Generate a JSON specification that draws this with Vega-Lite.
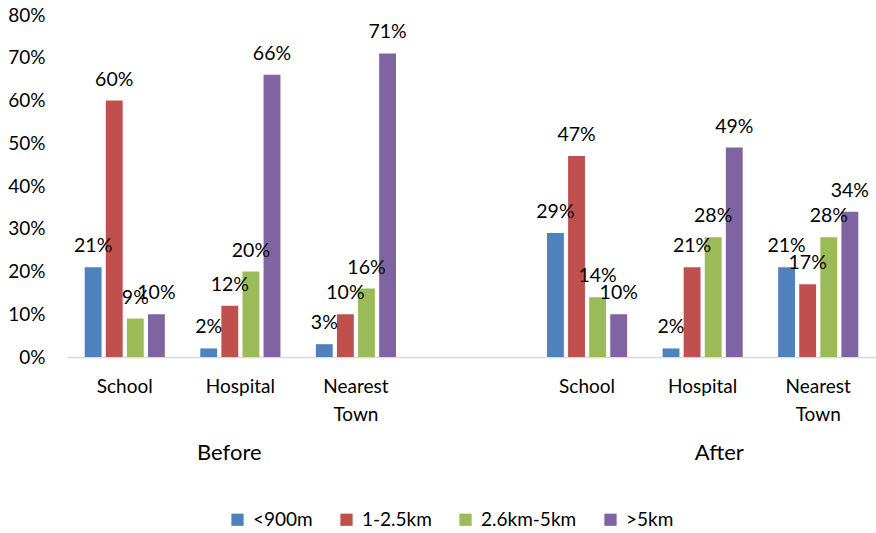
{
  "$schema": "https://vega.github.io/schema/vega-lite/v6.json",
  "width": 809,
  "height": 342,
  "autosize": {"type": "none"},
  "padding": {"left": 67, "top": 15, "right": 0, "bottom": 176},
  "background": "white",
  "config": {
    "font": "Lato",
    "view": {"stroke": null},
    "axis": {"grid": false}
  },
  "data": {
    "values": [
      {"period": "Before", "place": "School", "band": "<900m", "value": 0.21},
      {"period": "Before", "place": "School", "band": "1-2.5km", "value": 0.60},
      {"period": "Before", "place": "School", "band": "2.6km-5km", "value": 0.09},
      {"period": "Before", "place": "School", "band": ">5km", "value": 0.10},
      {"period": "Before", "place": "Hospital", "band": "<900m", "value": 0.02},
      {"period": "Before", "place": "Hospital", "band": "1-2.5km", "value": 0.12},
      {"period": "Before", "place": "Hospital", "band": "2.6km-5km", "value": 0.20},
      {"period": "Before", "place": "Hospital", "band": ">5km", "value": 0.66},
      {"period": "Before", "place": "Nearest Town", "band": "<900m", "value": 0.03},
      {"period": "Before", "place": "Nearest Town", "band": "1-2.5km", "value": 0.10},
      {"period": "Before", "place": "Nearest Town", "band": "2.6km-5km", "value": 0.16},
      {"period": "Before", "place": "Nearest Town", "band": ">5km", "value": 0.71},
      {"period": "After", "place": "School", "band": "<900m", "value": 0.29},
      {"period": "After", "place": "School", "band": "1-2.5km", "value": 0.47},
      {"period": "After", "place": "School", "band": "2.6km-5km", "value": 0.14},
      {"period": "After", "place": "School", "band": ">5km", "value": 0.10},
      {"period": "After", "place": "Hospital", "band": "<900m", "value": 0.02},
      {"period": "After", "place": "Hospital", "band": "1-2.5km", "value": 0.21},
      {"period": "After", "place": "Hospital", "band": "2.6km-5km", "value": 0.28},
      {"period": "After", "place": "Hospital", "band": ">5km", "value": 0.49},
      {"period": "After", "place": "Nearest Town", "band": "<900m", "value": 0.21},
      {"period": "After", "place": "Nearest Town", "band": "1-2.5km", "value": 0.17},
      {"period": "After", "place": "Nearest Town", "band": "2.6km-5km", "value": 0.28},
      {"period": "After", "place": "Nearest Town", "band": ">5km", "value": 0.34}
    ]
  },
  "transform": [
    {"calculate": "datum.period + '|' + datum.place", "as": "slot"}
  ],
  "layer": [
    {
      "layer": [
        {
          "mark": {"type": "bar"},
          "encoding": {
            "x": {
              "field": "slot",
              "type": "nominal",
              "scale": {
                "domain": ["Before|School", "Before|Hospital", "Before|Nearest Town", "gap", "After|School", "After|Hospital", "After|Nearest Town"],
                "paddingInner": 0.27,
                "paddingOuter": 0.135
              },
              "axis": {
                "title": null,
                "labelAngle": 0,
                "ticks": false,
                "domainColor": "#d9d9d9",
                "domainWidth": 1.5,
                "labelFont": "Lato",
                "labelFontSize": 19,
                "labelColor": "#000000",
                "labelPadding": 20,
                "labelLineHeight": 28,
                "labelBaseline": "top",
                "labelExpr": "split(split(datum.value, '|')[1] || '', ' ')"
              }
            },
            "xOffset": {
              "field": "band",
              "type": "nominal",
              "sort": ["<900m", "1-2.5km", "2.6km-5km", ">5km"],
              "scale": {"paddingInner": 0.2, "paddingOuter": 0.1}
            },
            "y": {
              "field": "value",
              "type": "quantitative",
              "scale": {"domain": [0, 0.8], "nice": false},
              "axis": {
                "title": null,
                "format": ".0%",
                "values": [0, 0.1, 0.2, 0.3, 0.4, 0.5, 0.6, 0.7, 0.8],
                "domain": false,
                "ticks": false,
                "labelFontSize": 19,
                "labelPadding": 22,
                "labelColor": "#000000"
              }
            },
            "color": {
              "field": "band",
              "type": "nominal",
              "scale": {
                "domain": ["<900m", "1-2.5km", "2.6km-5km", ">5km"],
                "range": ["#4F81BD", "#C0504D", "#9BBB59", "#8064A2"]
              },
              "legend": {
                "title": null,
                "orient": "none",
                "legendX": 161,
                "legendY": 495,
                "direction": "horizontal",
                "symbolType": "square",
                "symbolSize": 150,
                "symbolStrokeWidth": 0,
                "labelFontSize": 19,
                "labelColor": "#000000",
                "labelOffset": 6,
                "columnPadding": 24
              }
            }
          }
        },
        {
          "mark": {"type": "text", "baseline": "bottom", "dy": -11, "fontSize": 19.5, "color": "#000000"},
          "encoding": {
            "x": {"field": "slot", "type": "nominal"},
            "xOffset": {"field": "band", "type": "nominal", "sort": ["<900m", "1-2.5km", "2.6km-5km", ">5km"]},
            "y": {"field": "value", "type": "quantitative"},
            "text": {"field": "value", "type": "quantitative", "format": ".0%"}
          }
        }
      ]
    },
    {
      "mark": {"type": "point", "opacity": 0},
      "encoding": {
        "x": {
          "datum": 0,
          "type": "quantitative",
          "scale": {"domain": [0, 7], "nice": false, "zero": false},
          "axis": {
            "orient": "bottom",
            "title": null,
            "values": [1.4, 5.64],
            "labelExpr": "datum.value < 3 ? 'Before' : 'After'",
            "domain": false,
            "ticks": false,
            "grid": false,
            "labelFontSize": 22,
            "labelColor": "#000000",
            "labelPadding": 0,
            "labelBaseline": "top",
            "offset": 85
          }
        }
      }
    }
  ],
  "resolve": {"scale": {"x": "independent"}, "axis": {"x": "independent"}}
}
